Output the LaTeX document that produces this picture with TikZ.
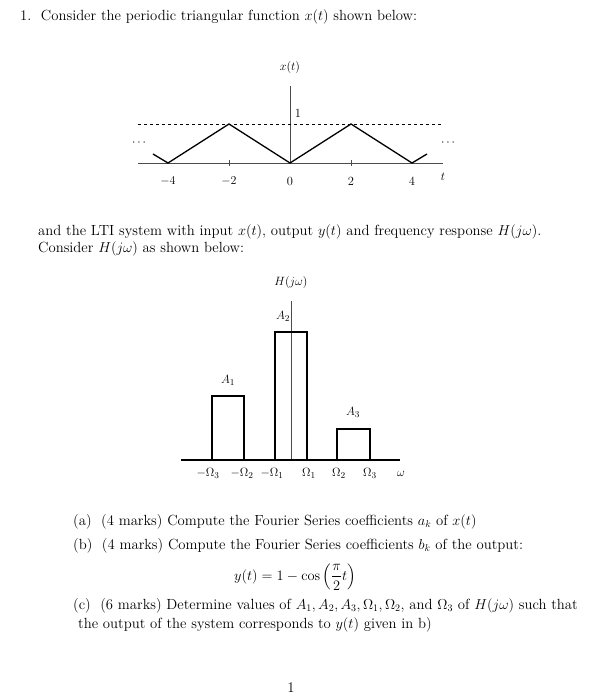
\documentclass[tikz,border=0pt]{standalone}
\usepackage{amsmath}
\begin{document}
\begin{tikzpicture}[x=1pt,y=-1pt,
  txt/.style={anchor=west,inner sep=0pt,font=\fontsize{14.7}{17}\selectfont},
  lbl/.style={inner sep=0pt,font=\fontsize{12.5}{14}\selectfont},
  ax/.style={draw=black!70,line width=0.6pt},
  wave/.style={line width=1.3pt},
  box/.style={draw,line width=1.3pt}]
\useasboundingbox (0,0) rectangle (609,700);
\node[txt] (l1) at (20,17) {1.\ \ Consider the periodic triangular function $x(t)$ shown below:};
% x(t) plot
\node[lbl] (xl) at (290,68) {$x(t)$};
\coordinate (xa0) at (138,163); \coordinate (xa1) at (443,163);
\draw[ax] (xa0) -- (xa1);
\coordinate (ya0) at (290,163); \coordinate (ya1) at (290,86);
\draw[ax] (ya0) -- (ya1);
\coordinate (d0) at (138,124); \coordinate (d1) at (443,124);
\draw[dashed,line width=0.7pt] (d0) -- (d1);
\draw[wave] (153,154) -- (168,163) -- (229,124) -- (290,163) -- (351,124) -- (412,163) -- (427,154);
\foreach \x in {229,351} \draw[ax] (\x,160) -- (\x,166);
\node[lbl] (one) at (298,113) {1};
\node[lbl] (tm4) at (168,181) {$-4$};
\node[lbl] (tm2) at (229,181) {$-2$};
\node[lbl] (t0) at (290,181) {0};
\node[lbl] (t2) at (351,181) {2};
\node[lbl] (t4) at (412,181) {4};
\node[lbl] (tt) at (443,177) {$t$};
\node[lbl] (dl) at (140,143) {$\cdots$};
\node[lbl] (dr) at (449,143) {$\cdots$};
\node[txt] (l2) at (38,232) {and the LTI system with input $x(t)$, output $y(t)$ and frequency response $H(j\omega)$.};
\node[txt] (l3) at (38,249) {Consider $H(j\omega)$ as shown below:};
% H plot
\node[lbl] (hl) at (291,282) {$H(j\omega)$};
\draw[ax] (291,460) -- (291,301);
\draw[box] (212,460) -- (212,396) -- (244,396) -- (244,460);
\draw[box] (275,460) -- (275,332) -- (307,332) -- (307,460);
\draw[box] (337,460) -- (337,429) -- (370,429) -- (370,460);
\draw[line width=1.3pt] (181,460) -- (400,460);
\node[lbl] (a2) at (283,316) {$A_2$};
\node[lbl] (a1) at (228,380) {$A_1$};
\node[lbl] (a3) at (353,412) {$A_3$};
\node[lbl] (o1) at (208,473) {$-\Omega_3$};
\node[lbl] (o2) at (242,473) {$-\Omega_2$};
\node[lbl] (o3) at (272,473) {$-\Omega_1$};
\node[lbl] (o4) at (309,473) {$\Omega_1$};
\node[lbl] (o5) at (339,473) {$\Omega_2$};
\node[lbl] (o6) at (370,473) {$\Omega_3$};
\node[lbl] (o7) at (401,474) {$\omega$};
\node[txt] (pa) at (73,522) {(a)\ \ (4 marks)\ Compute the Fourier Series coefficients $a_k$ of $x(t)$};
\node[txt] (pb) at (73,546) {(b)\ \ (4 marks)\ Compute the Fourier Series coefficients $b_k$ of the output:};
\node[inner sep=0pt,font=\fontsize{14.7}{17}\selectfont] (eq) at (295,577) {$y(t)=1-\cos\left(\dfrac{\pi}{2}t\right)$};
\node[txt] (pc) at (73,606) {(c)\ \ (6 marks)\ Determine values of $A_1,A_2,A_3,\Omega_1,\Omega_2$, and $\Omega_3$ of $H(j\omega)$ such that};
\node[txt] (pc2) at (78,625) {the output of the system corresponds to $y(t)$ given in b)};
\node[txt,anchor=center] (pg) at (291,688) {1};
\end{tikzpicture}
\end{document}
